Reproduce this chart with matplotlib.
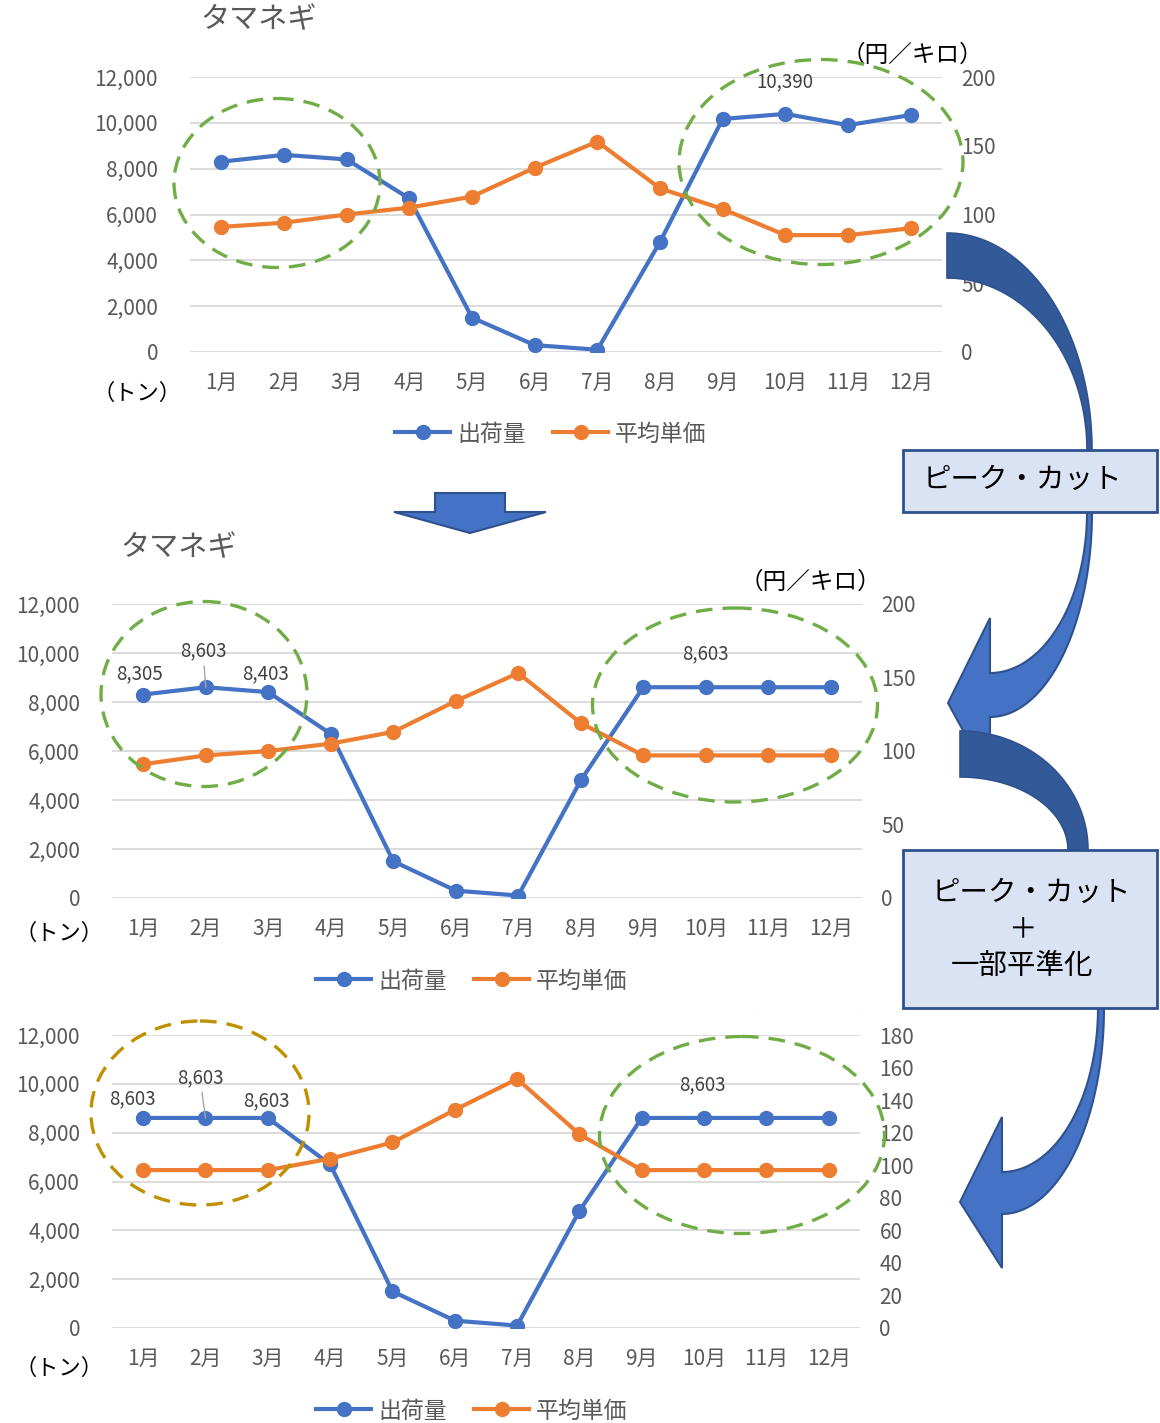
import numpy as np
import matplotlib
matplotlib.use("Agg")
import matplotlib.pyplot as plt
from matplotlib.patches import Ellipse, Polygon, Rectangle
from matplotlib.lines import Line2D

plt.rcParams['font.family'] = ['Noto Sans CJK JP', 'DejaVu Sans']

W, H = 1160, 1423

months = [f"{m}月" for m in range(1, 13)]

# 出荷量 (トン)
ship_raw = [8305, 8603, 8403, 6700, 1500, 300, 100, 4800, 10170, 10390, 9900, 10340]
ship_cut = [8305, 8603, 8403, 6700, 1500, 300, 100, 4800, 8603, 8603, 8603, 8603]
ship_flat = [8603, 8603, 8603, 6700, 1500, 300, 100, 4800, 8603, 8603, 8603, 8603]

# 平均単価 (円/キロ)
price_raw = [91, 94, 100, 105, 113, 134, 153, 119, 104, 85, 85, 90]
price_cut = [91, 97, 100, 105, 113, 134, 153, 119, 97, 97, 97, 97]
price_flat = [97, 97, 97, 104, 114, 134, 153, 119, 97, 97, 97, 97]

BLUE = '#4472C4'
ORANGE = '#ED7D31'
GRAY = '#595959'
GREEN = '#70AD47'
GOLD = '#BF9000'

fig = plt.figure(figsize=(W / 100, H / 100), dpi=100)


def px_axes(left, top, right, bottom):
    return fig.add_axes([left / W, 1 - bottom / H, (right - left) / W, (bottom - top) / H])


def chart(box, ship, price, pmax, pstep, labels):
    ax = px_axes(*box)
    x = np.arange(12)
    ax.set_xlim(-0.5, 11.5)
    ax.set_ylim(0, 12000)
    ax.set_yticks(range(0, 12001, 2000))
    ax.yaxis.set_major_formatter(lambda v, p: f"{int(v):,}")
    ax.set_xticks(x, months)
    ax.grid(axis='y', color='#D9D9D9', lw=1.3)
    ax.set_axisbelow(True)
    for s in ax.spines.values():
        s.set_visible(False)
    ax.tick_params(length=0, labelsize=15, labelcolor=GRAY)
    ax.tick_params(axis='y', pad=23)
    ax.tick_params(axis='x', pad=14)

    ax2 = ax.twinx()
    ax2.set_ylim(0, pmax)
    ax2.set_yticks(np.arange(0, pmax + 1, pstep))
    for s in ax2.spines.values():
        s.set_visible(False)
    ax2.tick_params(length=0, labelsize=15, labelcolor=GRAY, pad=14)

    ax.plot(x, ship, color=BLUE, lw=3, marker='o', ms=10, solid_capstyle='round')
    ax2.plot(x, price, color=ORANGE, lw=3, marker='o', ms=10, solid_capstyle='round')

    # data labels: (month index, offset in points, leader line)
    for i, dx, dy, leader in labels:
        ax.annotate(f"{ship[i]:,}", (i, ship[i]), xytext=(dx, dy), textcoords='offset points',
                    ha='center', va='center', fontsize=13.5, color='#404040',
                    arrowprops=dict(arrowstyle='-', color='#A6A6A6', lw=1, shrinkA=1, shrinkB=0)
                    if leader else None)
    return ax


chart((190, 77, 942, 352), ship_raw, price_raw, 200, 50,
      [(9, 0, 23, False)])
chart((112, 604, 862, 898), ship_cut, price_cut, 200, 50,
      [(0, -3, 15, False), (1, -2, 26, True), (2, -2, 13, False), (9, 0, 24, False)])
chart((112, 1035, 860, 1328), ship_flat, price_flat, 180, 20,
      [(0, -8, 14, False), (1, -4, 29, True), (2, -1, 12, False), (9, -1, 24, False)])

# legends
handles = [Line2D([], [], color=BLUE, lw=3, marker='o', ms=10),
           Line2D([], [], color=ORANGE, lw=3, marker='o', ms=10)]
for cx, cy in [(551, 434), (472, 981), (472, 1411)]:
    fig.legend(handles, ['出荷量', '平均単価'], loc='center', bbox_to_anchor=(cx / W, 1 - cy / H),
               ncol=2, frameon=False, fontsize=16.5, labelcolor=GRAY, handlelength=2.4,
               handletextpad=0.3, columnspacing=1.2, borderpad=0)

# overlay in pixel coordinates for titles, units, circles and arrows
ov = fig.add_axes([0, 0, 1, 1])
ov.set_xlim(0, W)
ov.set_ylim(H, 0)
ov.axis('off')
ov.set_zorder(10)

for x, y in [(200, 20), (120, 548)]:
    ov.text(x, y, 'タマネギ', fontsize=21, color=GRAY, ha='left', va='center')
for x, y in [(137, 393), (59, 933), (59, 1368)]:
    ov.text(x, y, '（トン）', fontsize=16, color='black', ha='center', va='center')
for x, y in [(912, 55), (810, 582), (808, 1004)]:
    ov.text(x, y, '（円／キロ）', fontsize=17, color='black', ha='center', va='center')
# the bottom chart's unit label sits under the chart above it
ov.add_patch(Rectangle((700, 985), 200, 28, fc='white', ec='none', zorder=3))

circles = [((277, 183), 206, 169, GREEN), ((821, 162), 284, 205, GREEN),
           ((204, 694), 206, 185, GREEN), ((735, 705), 285, 194, GREEN),
           ((200, 1113), 218, 184, GOLD), ((742, 1135), 285, 197, GREEN)]
for c, w, h, col in circles:
    ov.add_patch(Ellipse(c, w, h, fill=False, ec=col, lw=2.4, ls=(0, (5, 3)), zorder=4))


def arc(cx, cy, rx, ry, t0, t1, n=80):
    t = np.linspace(t0, t1, n)
    return np.column_stack([cx + rx * np.cos(t), cy + ry * np.sin(t)])


LIGHT = '#4472C4'
DARK = '#335A98'
EDGE = '#2F528F'

# straight down arrow between the first two charts
ov.add_patch(Polygon([(435, 493), (505, 493), (505, 512), (546, 512), (470, 533),
                      (394, 512), (435, 512)], closed=True, fc=LIGHT, ec=EDGE, lw=1.5, zorder=5))

# curved arrow 1 (back part, then front part with head)
back1 = np.vstack([arc(947, 450, 145, 217, -np.pi / 2, 0), arc(947, 450, 140, 172, 0, -np.pi / 2)])
ov.add_patch(Polygon(back1, closed=True, fc=DARK, ec=EDGE, lw=1.2, zorder=5))
front1 = np.vstack([arc(990, 512, 102, 205, 0, np.pi / 2),
                    [(990, 780), (948, 703), (990, 618)],
                    arc(990, 512, 97, 161, np.pi / 2, 0)])
ov.add_patch(Polygon(front1, closed=True, fc=LIGHT, ec=EDGE, lw=1.5, zorder=5))

# curved arrow 2
back2 = np.vstack([arc(960, 850, 128, 119, -np.pi / 2, 0), arc(960, 850, 108, 73, 0, -np.pi / 2)])
ov.add_patch(Polygon(back2, closed=True, fc=DARK, ec=EDGE, lw=1.2, zorder=6))
front2 = np.vstack([arc(1002, 1008, 102, 206, 0, np.pi / 2),
                    [(1002, 1268), (960, 1202), (1002, 1117)],
                    arc(1002, 1008, 96, 164, np.pi / 2, 0)])
ov.add_patch(Polygon(front2, closed=True, fc=LIGHT, ec=EDGE, lw=1.5, zorder=5))

# text boxes
ov.add_patch(Rectangle((903, 450), 254, 62, fc='#DAE3F3', ec=EDGE, lw=2, zorder=7))
ov.text(1022, 480, 'ピーク・カット', fontsize=20.5, ha='center', va='center', zorder=8)
ov.add_patch(Rectangle((903, 850), 254, 158, fc='#DAE3F3', ec=EDGE, lw=2, zorder=7))
ov.text(1031, 893, 'ピーク・カット', fontsize=20.5, ha='center', va='center', zorder=8)
ov.text(1022, 929, '＋', fontsize=20.5, ha='center', va='center', zorder=8)
ov.text(1022, 966, '一部平準化', fontsize=20.5, ha='center', va='center', zorder=8)

fig.savefig('out.png', dpi=100)
